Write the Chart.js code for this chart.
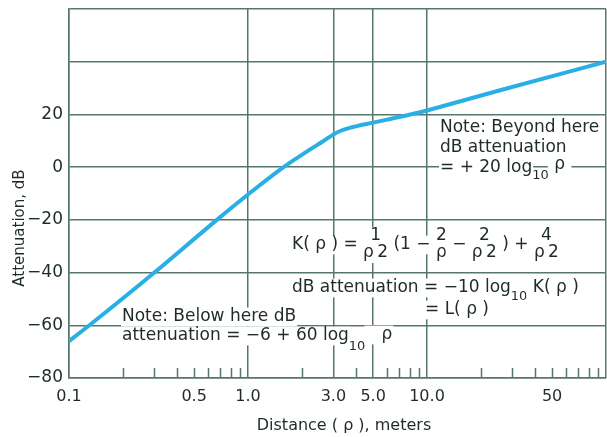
<!DOCTYPE html>
<html>
<head>
<meta charset="utf-8">
<title>Attenuation vs distance</title>
<script src="https://cdn.jsdelivr.net/npm/chart.js@4.4.1/dist/chart.umd.min.js"></script>
<style>
  html, body { margin: 0; padding: 0; background: #fff; }
  #wrap { width: 607px; height: 437px; }
</style>
</head>
<body>
<div id="wrap"><canvas id="chart" width="607" height="437"></canvas></div>
<script>
// curve
const distance    = [0.1, 0.13, 0.3, 0.67, 1.0, 1.58, 2.13, 2.64, 3.0, 3.3, 3.7, 5.0, 7.0, 10, 25, 100];
const attenuation = [-66, -60, -40, -20, -10.4, 0, 5.9, 9.9, 12.4, 13.8, 14.9, 16.9, 19.0, 21.5, 29.0, 40];

// x axis (log)
const xMajorGrid  = [0.1, 1, 3, 5, 10, 100];
const xMinorTicks = [0.2, 0.3, 0.4, 0.5, 0.6, 0.7, 0.8, 0.9, 2, 4, 6, 7, 8, 9, 20, 30, 40, 50, 60, 70, 80, 90];
const xLabelValues = [0.1, 0.5, 1, 3, 5, 10, 50];
const xLabelText   = ['0.1', '0.5', '1.0', '3.0', '5.0', '10.0', '50'];

// y axis
const yLabelValues = [20, 0, -20, -40, -60, -80];

const FONT = '"DejaVu Sans", sans-serif';
const INK = '#1f2b28';
const GRID = '#57776d';

// white-backed text runs: [text, dy, size] or {num, den}
function drawRuns(ctx, x, y, runs, size) {
    let cx = x;
    runs.forEach(r => {
        if (Array.isArray(r)) {
            const [t, dy, sz] = r;
            ctx.font = sz + 'px ' + FONT;
            const w = ctx.measureText(t).width;
            ctx.fillStyle = '#fff';
            ctx.fillRect(cx - 1, y + dy - sz * 0.55, w + 2, sz * 1.1);
            ctx.fillStyle = INK;
            ctx.fillText(t, cx, y + dy);
            cx += w;
        } else {
            ctx.font = size + 'px ' + FONT;
            const w = Math.max(ctx.measureText(r.num).width, ctx.measureText(r.den).width);
            ctx.fillStyle = '#fff';
            ctx.fillRect(cx - 1, y - 18, w + 2, 36);
            ctx.fillStyle = INK;
            ctx.textAlign = 'center';
            ctx.fillText(r.num, cx + w / 2, y - 9);
            ctx.fillText(r.den, cx + w / 2, y + 8);
            ctx.textAlign = 'left';
            cx += w;
        }
    });
    return cx;
}

const notesPlugin = {
    id: 'notes',
    afterDatasetsDraw(chart) {
        const ctx = chart.ctx;
        const x = chart.scales.x;
        const area = chart.chartArea;
        ctx.save();

        // minor tick marks along the bottom
        ctx.strokeStyle = GRID;
        ctx.lineWidth = 1.5;
        xMinorTicks.forEach(v => {
            const px = Math.round(x.getPixelForValue(v)) + 0.5;
            ctx.beginPath();
            ctx.moveTo(px, area.bottom);
            ctx.lineTo(px, area.bottom - 10);
            ctx.stroke();
        });

        ctx.textBaseline = 'middle';
        ctx.textAlign = 'left';
        const S = 17, SUB = 13;

        drawRuns(ctx, 440, 128, [['Note: Beyond here', 0, S]], S);
        drawRuns(ctx, 440, 148, [['dB attenuation', 0, S]], S);
        drawRuns(ctx, 440, 168, [['= + 20 log', 0, S], ['10', 8, SUB], [' ρ ', -3, S]], S);

        drawRuns(ctx, 292, 245, [
            ['K( ρ ) = ', 0, S], { num: '1', den: 'ρ\u20092' },
            [' (1 − ', 0, S], { num: '2', den: 'ρ' },
            [' − ', 0, S], { num: '2', den: 'ρ\u20092' },
            [' ) + ', 0, S], { num: '4', den: 'ρ\u20092' }
        ], S);

        drawRuns(ctx, 292, 288, [['dB attenuation = −10 log', 0, S], ['10', 9, SUB], [' K( ρ )', 0, S]], S);
        drawRuns(ctx, 425, 310, [['= L( ρ )', 0, S]], S);

        drawRuns(ctx, 122, 317, [['Note: Below here dB', 0, S]], S);
        drawRuns(ctx, 122, 336, [['attenuation = −6 + 60 log', 0, S], ['10', 11, SUB], ['   ρ', -1, S]], S);

        // axis titles
        ctx.fillStyle = INK;
        ctx.textAlign = 'center';
        ctx.font = '16px ' + FONT;
        ctx.fillText('Distance ( ρ ), meters', 344, 426);
        ctx.translate(20, 228);
        ctx.rotate(-Math.PI / 2);
        ctx.font = '15px ' + FONT;
        ctx.fillText('Attenuation, dB', 0, 0);
        ctx.restore();
    }
};

const points = distance.map((d, i) => ({ x: d, y: attenuation[i] }));

new Chart(document.getElementById('chart'), {
    type: 'line',
    data: {
        datasets: [{
            data: points,
            borderColor: '#2aafe5',
            borderWidth: 4,
            pointRadius: 0,
            cubicInterpolationMode: 'monotone',
            fill: false
        }]
    },
    options: {
        responsive: false,
        animation: false,
        layout: { padding: { top: 9, right: 1, left: 0, bottom: 0 } },
        plugins: { legend: { display: false }, tooltip: { enabled: false } },
        scales: {
            x: {
                type: 'logarithmic',
                min: 0.1,
                max: 100,
                afterBuildTicks: s => {
                    s.ticks = [...new Set([...xMajorGrid, ...xMinorTicks])].sort((a, b) => a - b).map(v => ({ value: v }));
                },
                afterFit: s => { s.height = 59; s.paddingLeft = 0; s.paddingRight = 0; },
                grid: {
                    drawTicks: false,
                    lineWidth: 1.5,
                    color: c => xMajorGrid.includes(c.tick.value) ? GRID : 'rgba(0,0,0,0)'
                },
                border: { color: GRID, width: 1.5 },
                ticks: {
                    autoSkip: false,
                    maxRotation: 0,
                    padding: 9,
                    color: INK,
                    font: { family: FONT, size: 16 },
                    callback: v => {
                        const i = xLabelValues.indexOf(v);
                        return i >= 0 ? xLabelText[i] : '';
                    }
                }
            },
            y: {
                min: -80,
                max: 60,
                afterFit: s => { s.width = 69; s.paddingTop = 0; s.paddingBottom = 0; },
                grid: { drawTicks: false, lineWidth: 1.5, color: GRID },
                border: { color: GRID, width: 1.5 },
                ticks: {
                    stepSize: 20,
                    padding: 6,
                    color: INK,
                    font: { family: FONT, size: 17 },
                    callback: v => yLabelValues.includes(v) ? (v < 0 ? '−' + Math.abs(v) : String(v)) : ''
                }
            }
        }
    },
    plugins: [notesPlugin]
});
</script>
</body>
</html>
